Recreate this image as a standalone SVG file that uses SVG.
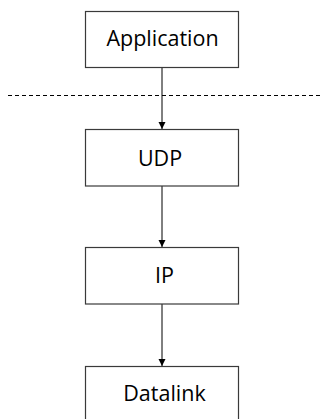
<svg xmlns="http://www.w3.org/2000/svg" width="322" height="419" viewBox="0 0 322 419">
<style>
.box{fill:#fff;stroke:#3a3a3a;stroke-width:1.2}
.lbl{font-family:"Open Sans",sans-serif;font-size:21.5px;fill:#000;text-anchor:middle}
.conn{stroke:#000;stroke-width:1;fill:none}
</style>
<defs>
<marker id="ah" markerWidth="8" markerHeight="8" refX="7" refY="4" orient="auto" markerUnits="userSpaceOnUse">
<path d="M0,0.5 L7,4 L0,7.5 Z" fill="#000"/>
</marker>
</defs>
<rect width="322" height="419" fill="#fff"/>
<line x1="8" y1="95.5" x2="322" y2="95.5" stroke="#000" stroke-width="1" stroke-dasharray="4,3"/>
<g id="connectors">
<line class="conn" x1="162" y1="67.5" x2="162" y2="129" marker-end="url(#ah)"/>
<line class="conn" x1="162" y1="186" x2="162" y2="247" marker-end="url(#ah)"/>
<line class="conn" x1="162" y1="304" x2="162" y2="366" marker-end="url(#ah)"/>
</g>
<g id="application">
<rect class="box" x="85.5" y="11.5" width="153" height="56"/>
<text class="lbl" x="162.5" y="46">Application</text>
</g>
<g id="udp">
<rect class="box" x="85.5" y="129.5" width="153" height="56.5"/>
<text class="lbl" x="160" y="166">UDP</text>
</g>
<g id="ip">
<rect class="box" x="85.5" y="247.5" width="153" height="56.5"/>
<text class="lbl" x="164.5" y="282.5">IP</text>
</g>
<g id="datalink">
<rect class="box" x="85.5" y="366.5" width="153" height="60"/>
<text class="lbl" x="164.5" y="401">Datalink</text>
</g>
</svg>
